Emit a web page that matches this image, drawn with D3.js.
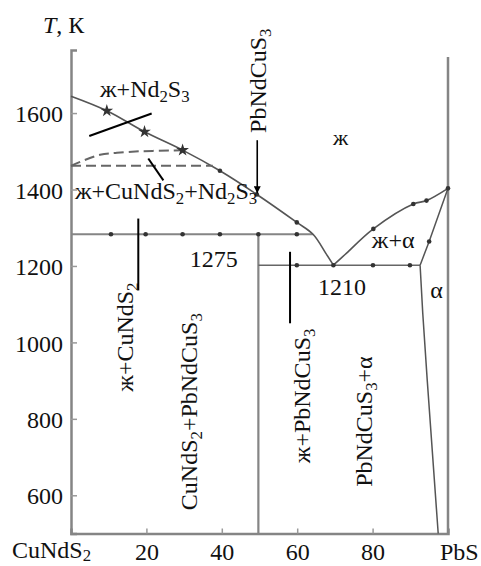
<!DOCTYPE html>
<html><head><meta charset="utf-8">
<script src="https://cdn.jsdelivr.net/npm/d3@7"></script>
<style>body{margin:0;background:#fff}svg{display:block}svg text{font-family:"Liberation Serif","Times New Roman",serif;fill:#111}</style>
</head><body><svg id="c" width="481" height="566" font-family="Liberation Serif, serif"></svg>
<script>
// ---- data (composition mol% PbS, temperature K) ----
const yTicks = [600, 800, 1000, 1200, 1400, 1600];
const xTicks = [20, 40, 60, 80];
const xEndLabels = ["CuNdS_2", "PbS"];
const liquidusLeft = [[0,1644],[9.5,1606],[19.5,1551],[29.6,1503],[39.5,1449],[49.3,1387],[59.9,1314],[64.2,1283],[67.6,1233],[69.6,1202]];
const liquidusRight = [[69.6,1202],[72.7,1230],[80.2,1297],[90.8,1362],[94.3,1371],[100,1403]];
const solidus = [[100,1403],[95,1264],[92.6,1202]];
const solvus = [[92.6,1202],[93.3,1077],[94.5,900],[97.4,500]];
const dashedUpper = [[0,1462],[7.7,1491],[12.2,1496],[18.3,1500],[26.3,1502],[29.6,1503]];
const dashedLower = [[0,1462],[37.6,1462]];
const peritecticT = 1283, peritecticX = [0, 64.2];
const eutecticT = 1202, eutecticX = [49.7, 92.6];
const compound = [[49.7,1283],[49.7,500]];
const pbsLine = [[100,500],[100,1747]];
const starPts = [[9.5,1606],[19.5,1551],[29.6,1503]];
const liqDots = [[39.5,1449],[49.3,1387],[59.9,1314],[80.2,1297],[90.8,1362],[94.3,1371],[95,1264],[100,1403]];
const periDots = [10.6,19.8,29.6,39.5,49.7,59.9];
const eutDots = [59.9,69.6,80.1,89.9];
const leaders = [[[4.85,1540],[21.4,1599]],[[20.5,1481],[24.5,1424]],[[17.85,1324],[17.85,1136]],[[58.1,1237],[58.1,1050]]];
const arrow = [[49.4,1529],[49.4,1390]];
// labels: text, composition, T, rotation, font size
const labels = [
  ["ж+Nd_2S_3", 7.7, 1642, 0, 24],
  ["ж+CuNdS_2+Nd_2S_3", 1.06, 1375, 0, 24],
  ["ж", 69.5, 1516, 0, 22],
  ["1275", 31.5, 1197, 0, 24],
  ["1210", 65.5, 1124, 0, 24],
  ["ж+α", 79.8, 1247, 0, 24],
  ["α", 95.3, 1116, 0, 24],
  ["PbNdCuS_3", 51.7, 1548, -90, 24],
  ["ж+CuNdS_2", 16.4, 871, -90, 24],
  ["CuNdS_2+PbNdCuS_3", 33.4, 561, -90, 24],
  ["ж+PbNdCuS_3", 63.4, 684, -90, 24],
  ["PbNdCuS_3+α", 79.8, 622, -90, 24]
];

// ---- chart ----
const svg = d3.select("#c");
const x = d3.scaleLinear().domain([0,100]).range([71,448]);
const y = d3.scaleLinear().domain([500,1765]).range([533.5,50]);
const gray = "#858585";
const line = d3.line().x(d=>x(d[0])).y(d=>y(d[1]));
const curve = d3.line().x(d=>x(d[0])).y(d=>y(d[1])).curve(d3.curveCatmullRom.alpha(0.5));

function rich(t, str, size, subShift){
  const sh = subShift === undefined ? 0.22 : subShift;
  t.attr("font-size", size);
  const parts = str.split(/(_\d)/).filter(s=>s.length);
  let sub = false;
  parts.forEach(p=>{
    if(p[0]==="_"){
      t.append("tspan").attr("font-size", size*0.7).attr("dy", size*sh).text(p.slice(1));
      sub = true;
    } else {
      const ts = t.append("tspan").text(p);
      if(sub){ ts.attr("dy", -size*sh); sub=false; }
    }
  });
}

// axes
const gy = svg.append("g").attr("transform", `translate(${x(0)},0)`)
  .call(d3.axisLeft(y).tickValues(yTicks).tickSize(-6).tickPadding(8).tickFormat(d3.format("d")));
gy.attr("font-family", null);
gy.select(".domain").attr("stroke", gray).attr("stroke-width", 2.5);
gy.selectAll(".tick line").attr("stroke", "#999").attr("stroke-width", 1.5);
gy.selectAll(".tick text").attr("font-size", 24).attr("fill", "#111").attr("dy", "0.36em");

const gx = svg.append("g").attr("transform", `translate(0,${y(500)})`)
  .call(d3.axisBottom(x).tickValues(xTicks).tickSize(-5).tickPadding(0).tickFormat(d3.format("d")));
gx.attr("font-family", null);
gx.select(".domain").attr("stroke", gray).attr("stroke-width", 2.5);
gx.selectAll(".tick line").attr("stroke", "#999").attr("stroke-width", 1.5);
gx.selectAll(".tick text").attr("font-size", 24).attr("fill", "#111").attr("y", 26.5).attr("dy", null);

// end labels of x axis
rich(svg.append("text").attr("x", x(0)-59).attr("y", 558), xEndLabels[0], 24, 0.12);
rich(svg.append("text").attr("x", x(100)-8).attr("y", 560), xEndLabels[1], 24);

// T, K title
const tt = svg.append("text").attr("x", 43).attr("y", 33).attr("font-size", 24);
tt.append("tspan").attr("font-style", "italic").text("T");
tt.append("tspan").text(", К");

// structural lines
svg.append("path").attr("d", line(pbsLine)).attr("stroke", gray).attr("stroke-width", 2.5).attr("fill","none");
svg.append("path").attr("d", line(compound)).attr("stroke", gray).attr("stroke-width", 2.2).attr("fill","none");
svg.append("path").attr("d", line([[peritecticX[0],peritecticT],[peritecticX[1],peritecticT]])).attr("stroke", gray).attr("stroke-width", 2.2).attr("fill","none");
svg.append("path").attr("d", line([[eutecticX[0],eutecticT],[eutecticX[1],eutecticT]])).attr("stroke", "#666").attr("stroke-width", 1.4).attr("fill","none");
[liquidusLeft, liquidusRight].forEach(d=>svg.append("path").attr("d", curve(d)).attr("stroke","#555").attr("stroke-width",1.6).attr("fill","none"));
[solidus, solvus].forEach(d=>svg.append("path").attr("d", line(d)).attr("stroke","#555").attr("stroke-width",1.5).attr("fill","none"));
[dashedUpper, dashedLower].forEach(d=>svg.append("path").attr("d", curve(d)).attr("stroke","#666").attr("stroke-width",2).attr("stroke-dasharray","10,5").attr("fill","none"));

// points
svg.selectAll(".ld").data(liqDots).join("circle").attr("cx",d=>x(d[0])).attr("cy",d=>y(d[1])).attr("r",2.3).attr("fill","#333");
svg.selectAll(".pd").data(periDots).join("circle").attr("cx",d=>x(d)).attr("cy",y(peritecticT)).attr("r",2.3).attr("fill","#333");
svg.selectAll(".ed").data(eutDots).join("circle").attr("cx",d=>x(d)).attr("cy",y(eutecticT)).attr("r",2.3).attr("fill","#333");
svg.selectAll(".st").data(starPts).join("path").attr("transform",d=>`translate(${x(d[0])},${y(d[1])})`)
  .attr("d", d3.symbol(d3.symbolStar, 50)()).attr("fill","#333");

// leaders
leaders.forEach(d=>svg.append("path").attr("d", line(d)).attr("stroke","#000").attr("stroke-width",2).attr("fill","none"));
svg.append("defs").append("marker").attr("id","ah").attr("viewBox","0 0 10 10").attr("refX",10).attr("refY",5)
  .attr("markerWidth",14).attr("markerHeight",7).attr("markerUnits","userSpaceOnUse").attr("orient","auto")
  .append("path").attr("d","M0,0L10,5L0,10z").attr("fill","#000");
svg.append("path").attr("d", line(arrow)).attr("stroke","#000").attr("stroke-width",1.6).attr("fill","none").attr("marker-end","url(#ah)");

// labels
labels.forEach(([s,cx,ct,rot,size])=>{
  const t = svg.append("text").attr("transform", `translate(${x(cx)},${y(ct)}) rotate(${rot})`);
  rich(t, s, size);
});
</script></body></html>
